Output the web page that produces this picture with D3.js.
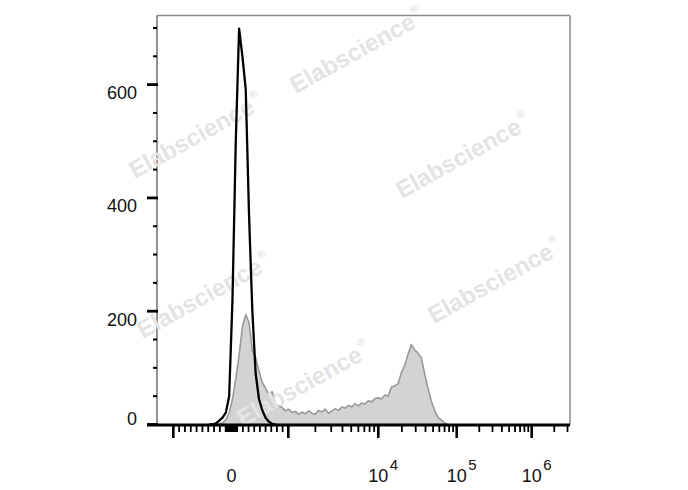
<!DOCTYPE html>
<html><head><meta charset="utf-8">
<script src="https://cdn.jsdelivr.net/npm/d3@7"></script>
<style>body{margin:0;background:#fff} svg{display:block}</style>
</head><body>
<svg id="c" width="688" height="490"></svg>
<script>
// ---- data ----
const yTickValues = [0, 200, 400, 600];
const yTickLabels = ["0", "200", "400", "600"];
const yMinorValues = [50, 100, 150, 250, 300, 350, 450, 500, 550, 650, 700];
const xMajorValues = [-1000, 1000, 1e4, 1e5, 1e6];
const xLabelValues = [0, 1e4, 1e5, 1e6];
const xLabelBase = ["0", "10", "10", "10"];
const xLabelExp = ["", "4", "5", "6"];
// stained sample (gray filled), counts per display channel starting at channel 20
const grayStart = 20;
const grayCounts = [0, 1, 3, 8, 20, 45, 80, 122, 172, 194, 180, 130, 118, 95, 74, 64, 52, 58, 36, 33,
  30, 24, 27, 21, 23, 18, 22, 19, 24, 20, 18, 25, 22, 27, 20, 24, 28, 25, 31, 29,
  34, 31, 37, 33, 38, 36, 42, 40, 46, 47, 45, 52, 50, 66, 68, 72, 92, 104, 124, 141,
  132, 126, 118, 90, 64, 42, 25, 13, 8, 3, 0];
// control (black line), counts per display channel starting at channel 18
const blackStart = 18;
const blackCounts = [0, 0, 2, 7, 12, 21, 50, 220, 500, 699, 650, 592, 370, 200, 90, 45, 25, 12, 5, 1, 0];
const watermarks = [[357, 51], [196, 136], [463, 156], [204, 296], [495, 281], [304, 384]];

// ---- layout ----
const L = 157, R = 570, T = 15.5, B = 424.5, AX0 = 147;
const svg = d3.select("#c");
const y = d3.scaleLinear().domain([0, 722]).range([B, T]);
const xCh = d3.scaleLinear().domain([0, 128]).range([148, 572]);
const xLin = d3.scaleLinear().domain([-1000, 0, 1000]).range([173.3, 231.5, 288.3]);
const xLog = d3.scaleLog().domain([1e3, 1e4, 1e5, 1e6, 1e7]).range([288.3, 378.3, 456.7, 531.7, 606.7]);
const xPos = v => Math.abs(v) <= 1000 ? xLin(v) : xLog(v);

const gray = grayCounts.map((c, i) => ({ch: grayStart + i, c}));
const black = blackCounts.map((c, i) => ({ch: blackStart + i, c}));

// frame
svg.append("line").attr("x1", L).attr("x2", R).attr("y1", T).attr("y2", T)
  .attr("stroke", "#8a8a8a").attr("stroke-width", 1.5);
svg.append("line").attr("x1", R).attr("x2", R).attr("y1", T).attr("y2", B)
  .attr("stroke", "#8a8a8a").attr("stroke-width", 1.5);
svg.append("line").attr("x1", L).attr("x2", L).attr("y1", T).attr("y2", B)
  .attr("stroke", "#777").attr("stroke-width", 1.6);

// gray histogram
svg.append("path").datum(gray)
  .attr("d", d3.area().x(d => xCh(d.ch + 0.5)).y0(y(0)).y1(d => y(d.c)))
  .attr("fill", "#d3d3d3").attr("stroke", "#999").attr("stroke-width", 1.6)
  .attr("stroke-linejoin", "round");

// watermarks
const wm = svg.append("g").attr("font-family", "Liberation Sans, Arial, sans-serif")
  .attr("font-weight", "bold").attr("fill", "#e4e4e4");
watermarks.forEach(([cx, cy]) => {
  const t = wm.append("text").attr("transform", `translate(${cx},${cy}) rotate(-29)`)
    .attr("text-anchor", "middle").attr("dy", 8).attr("font-size", 24);
  t.append("tspan").text("Elabscience");
  t.append("tspan").attr("font-size", 11).attr("dy", -13).attr("dx", 2).text("®");
});

// black histogram
svg.append("path").datum(black)
  .attr("d", d3.line().x(d => xCh(d.ch + 0.5)).y(d => y(d.c)))
  .attr("fill", "none").attr("stroke", "#000").attr("stroke-width", 2.3)
  .attr("stroke-linejoin", "round");

// x axis
svg.append("line").attr("x1", AX0).attr("x2", R).attr("y1", 425).attr("y2", 425)
  .attr("stroke", "#000").attr("stroke-width", 3);
const xMinor = [];
d3.range(-900, 1000, 100).forEach(v => { if (v !== 0) xMinor.push(v); });
d3.range(-90, 100, 10).forEach(v => xMinor.push(v));
[1e3, 1e4, 1e5].forEach(dd => d3.range(2, 10).forEach(m => xMinor.push(m * dd)));
[2e6, 3e6].forEach(v => xMinor.push(v));
const xt = svg.append("g").attr("stroke", "#000");
xMinor.forEach(v => xt.append("line").attr("x1", xPos(v)).attr("x2", xPos(v))
  .attr("y1", 426).attr("y2", 432).attr("stroke-width", 1.8));
xMajorValues.forEach(v => xt.append("line").attr("x1", xPos(v)).attr("x2", xPos(v))
  .attr("y1", 426).attr("y2", 438).attr("stroke-width", 2.6));

const xl = svg.append("g").attr("font-family", "Liberation Sans, Arial, sans-serif").attr("fill", "#111");
xLabelValues.forEach((v, i) => {
  const px = xPos(v);
  xl.append("text").attr("x", px).attr("y", 481.5).attr("text-anchor", "middle")
    .attr("font-size", 18).text(xLabelBase[i]);
  if (xLabelExp[i]) xl.append("text").attr("x", px + 11.5).attr("y", 470)
    .attr("font-size", 15).text(xLabelExp[i]);
});

// y axis ticks
const yt = svg.append("g").attr("stroke", "#000");
yMinorValues.forEach(v => yt.append("line").attr("x1", 153).attr("x2", L)
  .attr("y1", y(v)).attr("y2", y(v)).attr("stroke-width", 2));
yTickValues.forEach(v => yt.append("line").attr("x1", AX0).attr("x2", L + 1)
  .attr("y1", y(v)).attr("y2", y(v)).attr("stroke-width", 2.8));
const yl = svg.append("g").attr("font-family", "Liberation Sans, Arial, sans-serif").attr("fill", "#111")
  .attr("font-size", 18).attr("text-anchor", "end");
yTickValues.forEach((v, i) => {
  yl.append("text").attr("x", 137).attr("y", v === 0 ? y(v) + 0.5 : y(v) + 14.5).text(yTickLabels[i]);
});
</script>
</body></html>
